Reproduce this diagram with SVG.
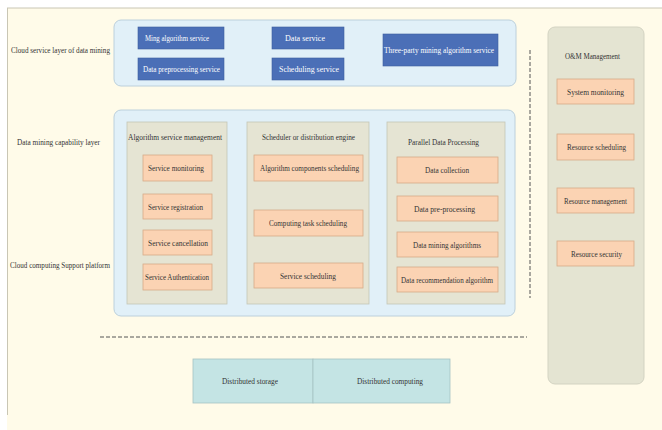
<svg xmlns="http://www.w3.org/2000/svg" width="662" height="430" viewBox="0 0 662 430">
<style>
text{font-family:"Liberation Serif","Times New Roman",serif;font-size:9px;fill:#333;text-anchor:middle;dominant-baseline:central}
.lbl{text-anchor:start}
.blue{fill:#4b6fb7;stroke:#3d5e9e;stroke-width:0.6}
.wt{fill:#fff}
.org{fill:#fbd3b3;stroke:#d6ab88;stroke-width:0.8}
.col{fill:#e5e4d3;stroke:#c4c6b6;stroke-width:0.8}
.layer{fill:#e1f0f8;stroke:#bcd0dc;stroke-width:1}
.dash{stroke:#555;stroke-width:1;stroke-dasharray:4,2;fill:none}
</style>
<rect x="0" y="0" width="662" height="430" fill="#ffffff"/>
<rect x="7" y="8" width="655" height="422" fill="#fffbe9"/>
<line x1="7" y1="8" x2="662" y2="8" stroke="#c9c6b4" stroke-width="1"/>
<line x1="7.5" y1="8" x2="7.5" y2="415" stroke="#c9c6b4" stroke-width="1"/>

<g id="layer-labels">
<text class="lbl" x="11" y="50" textLength="99" lengthAdjust="spacingAndGlyphs">Cloud service layer of data mining</text>
<text class="lbl" x="17" y="142" textLength="83" lengthAdjust="spacingAndGlyphs">Data mining capability layer</text>
<text class="lbl" x="10" y="265" textLength="100" lengthAdjust="spacingAndGlyphs">Cloud computing Support platform</text>
</g>

<g id="cloud-service-layer">
<rect class="layer" x="114" y="20" width="402" height="66" rx="7"/>
</g>
<g id="ming-algorithm-service"><rect class="blue" x="138" y="27" width="86" height="22"/><text class="wt" x="177" y="38" textLength="64" lengthAdjust="spacingAndGlyphs">Ming algorithm service</text></g>
<g id="data-preprocessing-service"><rect class="blue" x="138" y="58" width="86" height="22"/><text class="wt" x="181.5" y="69" textLength="77" lengthAdjust="spacingAndGlyphs">Data preprocessing service</text></g>
<g id="data-service"><rect class="blue" x="272" y="27" width="72" height="22"/><text class="wt" x="305" y="38" textLength="40" lengthAdjust="spacingAndGlyphs">Data service</text></g>
<g id="scheduling-service"><rect class="blue" x="272" y="58" width="72" height="22"/><text class="wt" x="309" y="69" textLength="60" lengthAdjust="spacingAndGlyphs">Scheduling service</text></g>
<g id="three-party-service"><rect class="blue" x="383" y="34" width="115" height="32"/><text class="wt" x="439" y="50" textLength="110" lengthAdjust="spacingAndGlyphs">Three-party mining algorithm service</text></g>

<g id="capability-layer">
<rect class="layer" x="114" y="110" width="401" height="206" rx="7"/>
</g>

<g id="algorithm-service-management">
<rect class="col" x="127" y="122" width="100" height="182"/>
<text x="175" y="137" textLength="94" lengthAdjust="spacingAndGlyphs">Algorithm service management</text>
</g>
<g id="service-monitoring"><rect class="org" x="143" y="155" width="69" height="26"/><text x="176" y="168" textLength="56" lengthAdjust="spacingAndGlyphs">Service monitoring</text></g>
<g id="service-registration"><rect class="org" x="143" y="194" width="69" height="25"/><text x="175.5" y="206.5" textLength="55" lengthAdjust="spacingAndGlyphs">Service registration</text></g>
<g id="service-cancellation"><rect class="org" x="143" y="230" width="69" height="25"/><text x="178" y="242.5" textLength="60" lengthAdjust="spacingAndGlyphs">Service cancellation</text></g>
<g id="service-authentication"><rect class="org" x="143" y="264" width="69" height="26"/><text x="177" y="277" textLength="64" lengthAdjust="spacingAndGlyphs">Service Authentication</text></g>

<g id="scheduler-engine">
<rect class="col" x="247" y="122" width="122" height="182"/>
<text x="308.5" y="137" textLength="93" lengthAdjust="spacingAndGlyphs">Scheduler or distribution engine</text>
</g>
<g id="algorithm-components-scheduling"><rect class="org" x="254" y="155" width="109" height="26"/><text x="309.5" y="168" textLength="99" lengthAdjust="spacingAndGlyphs">Algorithm components scheduling</text></g>
<g id="computing-task-scheduling"><rect class="org" x="254" y="210" width="109" height="26"/><text x="308" y="223" textLength="78" lengthAdjust="spacingAndGlyphs">Computing task scheduling</text></g>
<g id="service-scheduling"><rect class="org" x="254" y="263" width="109" height="25"/><text x="308" y="275.5" textLength="56" lengthAdjust="spacingAndGlyphs">Service scheduling</text></g>

<g id="parallel-data-processing">
<rect class="col" x="387" y="122" width="118" height="182"/>
<text x="443.5" y="142" textLength="71" lengthAdjust="spacingAndGlyphs">Parallel Data Processing</text>
</g>
<g id="data-collection"><rect class="org" x="397" y="157" width="101" height="26"/><text x="447" y="170" textLength="44" lengthAdjust="spacingAndGlyphs">Data collection</text></g>
<g id="data-pre-processing"><rect class="org" x="397" y="196" width="101" height="25"/><text x="444.5" y="208.5" textLength="61" lengthAdjust="spacingAndGlyphs">Data pre-processing</text></g>
<g id="data-mining-algorithms"><rect class="org" x="397" y="232" width="101" height="25"/><text x="447" y="244.5" textLength="68" lengthAdjust="spacingAndGlyphs">Data mining algorithms</text></g>
<g id="data-recommendation-algorithm"><rect class="org" x="397" y="267" width="101" height="25"/><text x="447" y="279.5" textLength="92" lengthAdjust="spacingAndGlyphs">Data recommendation algorithm</text></g>

<g id="om-management">
<rect x="548" y="27" width="96" height="357" rx="7" fill="#e4e4d2" stroke="#d3d3c2" stroke-width="1"/>
<text x="592.5" y="56" textLength="55" lengthAdjust="spacingAndGlyphs">O&amp;M Management</text>
</g>
<g id="system-monitoring"><rect class="org" x="557" y="79" width="77" height="25"/><text x="595.5" y="91.5" textLength="57" lengthAdjust="spacingAndGlyphs">System monitoring</text></g>
<g id="resource-scheduling"><rect class="org" x="557" y="134" width="77" height="26"/><text x="596.5" y="147" textLength="59" lengthAdjust="spacingAndGlyphs">Resource scheduling</text></g>
<g id="resource-management"><rect class="org" x="557" y="188" width="77" height="25"/><text x="595.5" y="200.5" textLength="63" lengthAdjust="spacingAndGlyphs">Resource management</text></g>
<g id="resource-security"><rect class="org" x="557" y="241" width="77" height="25"/><text x="596.5" y="253.5" textLength="51" lengthAdjust="spacingAndGlyphs">Resource security</text></g>

<g id="distributed-storage"><rect x="193" y="359" width="120" height="44" fill="#c4e4e4" stroke="#a6c2c2" stroke-width="0.8"/><text x="250" y="381" textLength="56" lengthAdjust="spacingAndGlyphs">Distributed storage</text></g>
<g id="distributed-computing"><rect x="313" y="359" width="137" height="44" fill="#c4e4e4" stroke="#a6c2c2" stroke-width="0.8"/><text x="390" y="381" textLength="66" lengthAdjust="spacingAndGlyphs">Distributed computing</text></g>

<g id="connectors">
<line class="dash" x1="530" y1="50" x2="530" y2="298"/>
<line class="dash" x1="100" y1="337" x2="527" y2="337"/>
</g>
</svg>
